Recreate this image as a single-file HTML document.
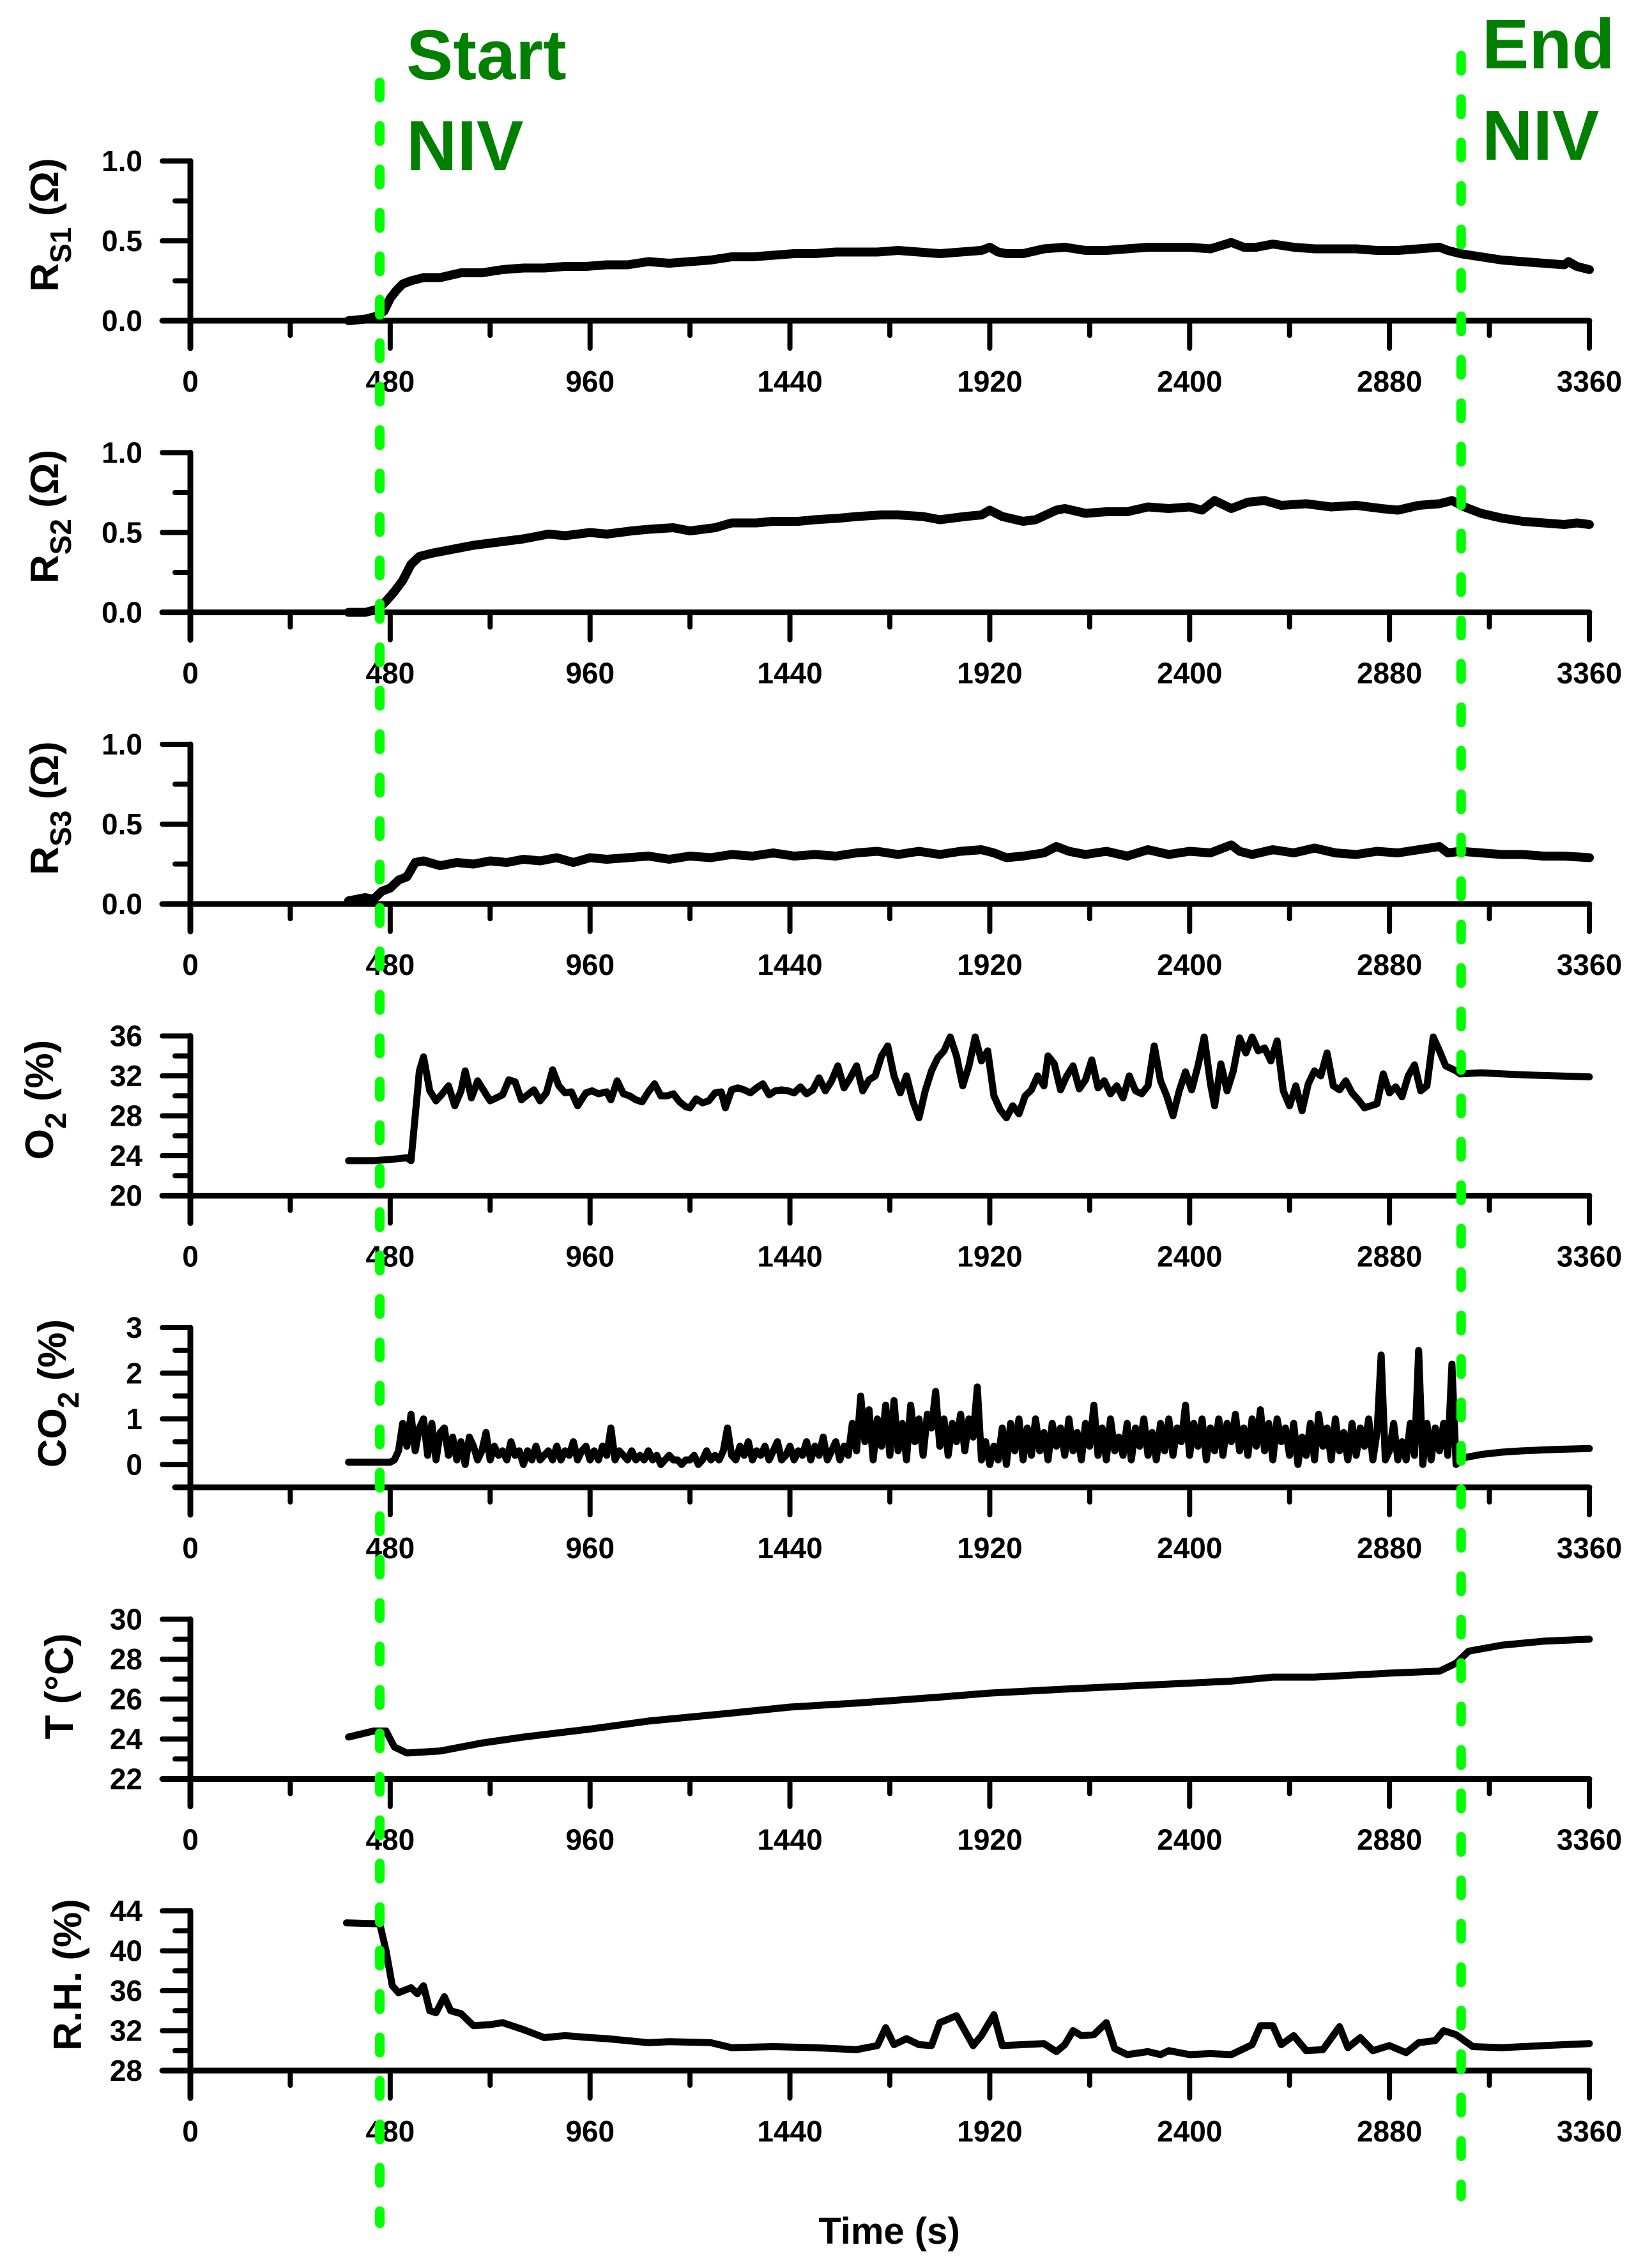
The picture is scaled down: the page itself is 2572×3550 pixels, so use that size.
<!DOCTYPE html>
<html><head><meta charset="utf-8"><style>
html,body{margin:0;padding:0;background:#fff;}
svg{display:block;font-family:"Liberation Sans",Arial,sans-serif;}
</style></head><body>
<svg id="chart" width="2572" height="3550" viewBox="0 0 2572 3550" xmlns="http://www.w3.org/2000/svg">
<g id="panels"></g>
<g id="markers"></g>
</svg>
<script>
const NS="http://www.w3.org/2000/svg";
// ---- shared x axis ----
const xTicksMajor=[0,480,960,1440,1920,2400,2880,3360];
const xTicksMinor=[240,720,1200,1680,2160,2640,3120];
const niveventTimes=[455,3052];
// ---- RS1 ----
const rs1T=[380,420,450,465,480,495,510,530,560,600,650,700,750,800,850,900,950,1000,1050,1100,1150,1200,1250,1300,1350,1400,1450,1500,1550,1600,1650,1700,1750,1800,1850,1900,1920,1940,1960,2000,2050,2100,2150,2200,2250,2300,2350,2400,2450,2500,2530,2560,2600,2650,2700,2750,2800,2850,2900,2950,3000,3020,3050,3100,3150,3200,3250,3300,3310,3330,3360];
const rs1V=[0.0,0.01,0.03,0.06,0.14,0.19,0.23,0.25,0.27,0.27,0.30,0.30,0.32,0.33,0.33,0.34,0.34,0.35,0.35,0.37,0.36,0.37,0.38,0.40,0.40,0.41,0.42,0.42,0.43,0.43,0.43,0.44,0.43,0.42,0.43,0.44,0.46,0.43,0.42,0.42,0.45,0.46,0.44,0.44,0.45,0.46,0.46,0.46,0.45,0.49,0.46,0.46,0.48,0.46,0.45,0.45,0.45,0.44,0.44,0.45,0.46,0.44,0.42,0.40,0.38,0.37,0.36,0.35,0.37,0.34,0.32];
// ---- RS2 ----
const rs2T=[380,420,450,470,490,510,530,550,580,620,680,740,800,860,900,960,1000,1060,1100,1160,1200,1260,1300,1360,1400,1460,1500,1560,1600,1660,1700,1760,1800,1860,1900,1920,1950,2000,2030,2080,2100,2150,2200,2250,2300,2350,2400,2430,2460,2500,2540,2580,2620,2680,2740,2800,2860,2900,2950,3000,3030,3060,3100,3150,3200,3250,3300,3330,3360];
const rs2V=[0.0,0.0,0.02,0.07,0.13,0.20,0.30,0.35,0.37,0.39,0.42,0.44,0.46,0.49,0.48,0.50,0.49,0.51,0.52,0.53,0.51,0.53,0.56,0.56,0.57,0.57,0.58,0.59,0.60,0.61,0.61,0.60,0.58,0.60,0.61,0.64,0.60,0.57,0.58,0.64,0.65,0.62,0.63,0.63,0.66,0.65,0.66,0.64,0.70,0.65,0.69,0.70,0.67,0.68,0.66,0.67,0.65,0.64,0.67,0.68,0.70,0.66,0.62,0.59,0.57,0.56,0.55,0.56,0.55];
// ---- RS3 ----
const rs3T=[380,420,440,460,480,500,520,540,560,600,640,680,720,760,800,840,880,920,960,1000,1050,1100,1150,1200,1250,1300,1350,1400,1450,1500,1550,1600,1650,1700,1750,1800,1850,1900,1930,1960,2000,2050,2080,2110,2150,2200,2250,2300,2350,2400,2450,2500,2520,2550,2600,2650,2700,2750,2800,2850,2900,2950,3000,3020,3050,3100,3150,3200,3250,3300,3360];
const rs3V=[0.02,0.04,0.03,0.08,0.10,0.15,0.17,0.26,0.27,0.24,0.26,0.25,0.27,0.26,0.28,0.27,0.29,0.26,0.29,0.28,0.29,0.30,0.28,0.30,0.29,0.31,0.30,0.32,0.30,0.31,0.30,0.32,0.33,0.31,0.33,0.31,0.33,0.34,0.32,0.29,0.30,0.32,0.36,0.33,0.31,0.33,0.30,0.34,0.31,0.33,0.32,0.37,0.33,0.31,0.34,0.32,0.35,0.32,0.31,0.33,0.32,0.34,0.36,0.32,0.33,0.32,0.31,0.31,0.30,0.30,0.29];
// ---- O2 ----
const o2T=[380,440,500,520,530,540,550,560,575,590,605,620,635,650,660,675,690,705,720,735,750,765,780,795,810,825,840,855,870,885,900,915,930,950,965,980,1000,1010,1025,1040,1055,1070,1085,1100,1115,1130,1145,1160,1175,1190,1200,1215,1230,1245,1260,1275,1285,1300,1315,1330,1345,1360,1375,1390,1405,1420,1435,1450,1465,1480,1495,1510,1525,1540,1555,1570,1585,1600,1615,1630,1645,1660,1675,1690,1705,1720,1735,1750,1765,1780,1795,1810,1825,1840,1855,1870,1885,1900,1915,1930,1945,1960,1975,1990,2005,2020,2035,2050,2060,2075,2090,2105,2120,2135,2150,2165,2180,2195,2210,2225,2240,2255,2270,2285,2300,2315,2330,2345,2360,2375,2390,2405,2420,2435,2450,2460,2475,2490,2505,2520,2535,2550,2565,2580,2595,2610,2625,2640,2655,2670,2685,2700,2715,2730,2745,2760,2775,2790,2805,2820,2835,2850,2865,2880,2895,2910,2925,2940,2955,2970,2985,3000,3015,3040,3050,3100,3200,3360];
const o2V=[23.5,23.5,23.7,23.8,23.5,28,32.5,33.9,30.5,29.5,30.2,31.0,29.0,30.5,32.5,29.8,31.5,30.5,29.5,29.8,30.1,31.6,31.4,29.6,30.1,30.6,29.5,30.3,32.6,31.0,30.3,30.4,29.0,30.3,30.5,30.2,30.4,29.6,31.5,30.2,30.0,29.6,29.4,30.4,31.2,30.0,30.0,30.2,29.4,28.9,28.8,29.7,29.3,29.5,30.3,30.4,28.8,30.6,30.8,30.6,30.3,30.8,31.2,30.1,30.5,30.6,30.5,30.3,30.9,30.2,30.6,31.8,30.5,31.5,33.0,30.8,31.8,33.0,30.5,31.6,32.0,34.0,35.0,32.0,30.3,32.0,29.5,27.8,30.5,32.5,33.8,34.5,35.9,34.0,31.0,33.0,35.9,33.5,34.5,30.0,28.6,27.8,29.0,28.2,30.0,30.6,32.0,31.0,34.0,33.2,30.6,32.0,33.0,30.7,31.6,33.6,30.8,31.5,30.2,31.0,29.8,32.0,30.5,30.2,31.0,35.0,31.5,30.0,28.0,30.5,32.4,30.6,33.0,35.9,31.2,29.0,33.2,30.5,32.5,35.8,34.3,35.9,34.5,34.8,33.5,35.5,30.5,29.0,31.0,28.5,31.2,32.5,32.0,34.3,31.0,30.6,31.5,30.3,29.6,28.8,29.0,29.2,32.2,30.3,30.9,29.9,32.0,33.1,30.5,31.0,35.9,34.5,33.0,32.5,32.2,32.3,32.1,31.9];
// ---- CO2 (10 s samples from 480 to 3040) ----
const co2Start=480;
const co2Step=10;
const co2V=[0.05,0.1,0.3,0.9,0.4,1.1,0.3,0.8,1.0,0.2,
0.9,0.1,0.7,0.8,0.2,0.6,0.1,0.5,0.0,0.6,
0.4,0.1,0.3,0.7,0.1,0.4,0.2,0.3,0.1,0.5,
0.2,0.3,0.0,0.3,0.1,0.4,0.1,0.2,0.3,0.1,
0.4,0.1,0.3,0.2,0.5,0.1,0.3,0.4,0.1,0.3,
0.1,0.4,0.2,0.8,0.1,0.3,0.2,0.1,0.3,0.1,
0.2,0.1,0.3,0.1,0.2,0.0,0.1,0.2,0.1,0.1,
0.0,0.1,0.1,0.2,0.0,0.1,0.3,0.1,0.2,0.1,
0.3,0.8,0.2,0.1,0.4,0.2,0.5,0.1,0.3,0.2,
0.4,0.1,0.3,0.5,0.1,0.2,0.4,0.1,0.3,0.2,
0.5,0.1,0.4,0.2,0.6,0.1,0.3,0.5,0.1,0.4,
0.2,0.9,0.3,1.5,0.5,1.2,0.1,1.0,0.4,1.3,
0.2,1.4,0.3,0.9,0.1,1.3,0.5,1.0,0.2,1.1,
0.8,1.6,0.4,1.0,0.2,0.9,0.5,1.1,0.3,1.0,
0.6,1.7,0.1,0.5,0.0,0.4,0.1,0.8,0.0,0.9,
0.3,1.0,0.1,0.8,0.2,1.0,0.3,0.7,0.1,0.9,
0.4,0.8,0.2,1.0,0.3,0.7,0.1,0.9,0.4,1.3,
0.2,0.8,0.1,1.0,0.3,0.6,0.2,0.9,0.1,0.8,
0.4,1.0,0.2,0.7,0.1,0.9,0.3,1.0,0.2,0.8,
0.5,1.3,0.2,0.9,0.4,1.0,0.1,0.8,0.3,1.0,
0.2,0.9,0.5,1.1,0.3,0.8,0.2,1.0,0.4,1.2,
0.3,0.9,0.1,1.0,0.5,0.8,0.2,0.9,0.0,0.6,
0.2,0.9,0.1,1.1,0.4,0.8,0.1,1.0,0.3,0.7,
0.1,0.9,0.2,0.8,0.4,1.0,0.1,0.7,2.4,0.1,
0.3,0.9,0.1,0.5,0.1,0.9,0.2,2.5,0.0,0.9,
0.1,0.8,0.3,0.9,0.2,2.2,0.0];
const co2PreT=[380,470];
const co2PreV=[0.05,0.05];
const co2PostT=[3060,3100,3150,3200,3280,3360];
const co2PostV=[0.15,0.22,0.27,0.30,0.33,0.35];
// ---- T ----
const tempT=[380,440,470,490,520,600,700,800,960,1100,1300,1440,1600,1800,1920,2100,2300,2500,2600,2700,2880,3000,3040,3070,3150,3250,3360];
const tempV=[24.1,24.4,24.4,23.6,23.3,23.4,23.8,24.1,24.5,24.9,25.3,25.6,25.8,26.1,26.3,26.5,26.7,26.9,27.1,27.1,27.3,27.4,27.8,28.4,28.7,28.9,29.0];
// ---- RH ----
const rhT=[375,455,470,485,500,530,545,560,575,590,610,625,650,680,720,750,800,850,900,960,1000,1100,1150,1250,1300,1400,1500,1600,1650,1670,1690,1720,1750,1780,1800,1840,1860,1880,1900,1930,1950,2000,2050,2080,2100,2120,2140,2170,2200,2220,2250,2300,2330,2350,2400,2450,2500,2550,2570,2600,2620,2650,2680,2720,2760,2780,2810,2840,2880,2920,2950,2990,3010,3040,3080,3150,3250,3360];
const rhV=[42.8,42.7,40,36.5,35.8,36.3,35.7,36.5,34,33.8,35.4,34,33.7,32.5,32.6,32.8,32.1,31.3,31.5,31.3,31.2,30.8,30.9,30.8,30.3,30.4,30.3,30.1,30.5,32.3,30.6,31.2,30.6,30.5,32.8,33.5,32,30.5,31.5,33.6,30.5,30.6,30.7,29.9,30.6,32,31.5,31.6,32.8,30.2,29.6,29.9,29.6,30,29.6,29.7,29.6,30.6,32.5,32.5,30.6,31.5,30,30.1,32.4,30.3,31.3,30,30.5,29.8,30.8,31,32,31.6,30.4,30.3,30.5,30.7];

// ---- layout ----
const X0=298, X1=2488, TMAX=3360;
function xScale(t){return X0+t/TMAX*(X1-X0);}
function el(tag,attrs,parent){const e=document.createElementNS(NS,tag);for(const k in attrs)e.setAttribute(k,attrs[k]);parent.appendChild(e);return e;}

const panels=[
 {name:'rs1',top:252,min:0,max:1,major:[0,0.5,1.0],minor:[0.25,0.75],dec:1,title:['R','S1',' (Ω)'],tx:91,tdy:-25,series:[[rs1T,rs1V]]},
 {name:'rs2',top:708.5,min:0,max:1,major:[0,0.5,1.0],minor:[0.25,0.75],dec:1,title:['R','S2',' (Ω)'],tx:91,tdy:-25,series:[[rs2T,rs2V]]},
 {name:'rs3',top:1165,min:0,max:1,major:[0,0.5,1.0],minor:[0.25,0.75],dec:1,title:['R','S3',' (Ω)'],tx:91,tdy:-25,series:[[rs3T,rs3V]]},
 {name:'o2',top:1621.5,min:20,max:36,major:[20,24,28,32,36],minor:[22,26,30,34],dec:0,title:['O','2',' (%)'],tx:83,tdy:-25,series:[[o2T,o2V]]},
 {name:'co2',top:2078,min:-0.5,max:3,major:[0,1,2,3],minor:[-0.5,0.5,1.5,2.5],dec:0,title:['CO','2',' (%)'],tx:103,tdy:-22,series:'co2'},
 {name:'temperature',top:2534.5,min:22,max:30,major:[22,24,26,28,30],minor:[23,25,27,29],dec:0,title:['T (°C)'],tx:114,tdy:-20,series:[[tempT,tempV]]},
 {name:'rh',top:2991,min:28,max:44,major:[28,32,36,40,44],minor:[30,34,38,42],dec:0,title:['R.H. (%)'],tx:127,tdy:-25,series:[[rhT,rhV]]}
];
const PH=250;
const root=document.getElementById('panels');

panels.forEach(p=>{
  const g=el('g',{},root);
  
  
  const bottom=p.top+PH;
  const yScale=v=>bottom-(v-p.min)/(p.max-p.min)*PH;
  const ax=el('g',{stroke:'#000','stroke-linecap':'round',fill:'none'},g);
  
  
  const yaxis=el('line',{x1:X0,y1:p.top,x2:X0,y2:bottom+43,'stroke-width':9},ax);
  
  
  const leftStart=p.major.includes(p.min)?X0-44:X0-24;
  const xaxis=el('line',{x1:leftStart,y1:bottom,x2:X1,y2:bottom,'stroke-width':9},ax);
  
  
  p.major.forEach(v=>{const y=yScale(v);el('line',{x1:X0-44,y1:y,x2:X0,y2:y,'stroke-width':8},ax);
    const t=el('text',{x:223,y:y+16,'text-anchor':'end','font-size':46,'font-weight':'bold',fill:'#000',stroke:'none'},g);
    
    
    t.textContent=p.dec?v.toFixed(p.dec):String(v);});
  p.minor.forEach(v=>{const y=yScale(v);el('line',{x1:X0-24,y1:y,x2:X0,y2:y,'stroke-width':8},ax);});
  xTicksMajor.forEach(tk=>{const x=xScale(tk);el('line',{x1:x,y1:bottom,x2:x,y2:bottom+43,'stroke-width':8},ax);
    const t=el('text',{x:x,y:bottom+111,'text-anchor':'middle','font-size':46,'font-weight':'bold',fill:'#000'},g);
    
    
    t.textContent=String(tk);});
  xTicksMinor.forEach(tk=>{const x=xScale(tk);el('line',{x1:x,y1:bottom,x2:x,y2:bottom+23,'stroke-width':8},ax);});
  const cy=p.top+PH/2+p.tdy;
  const tt=el('text',{transform:`translate(${p.tx},${cy}) rotate(-90)`,'text-anchor':'middle','font-size':62,'font-weight':'bold',fill:'#000'},g);
  
  
  if(p.title.length===1){tt.textContent=p.title[0];}
  else{
    const a=el('tspan',{},tt);a.textContent=p.title[0];
    const b=el('tspan',{dy:20,'font-size':46},tt);b.textContent=p.title[1];
    const c=el('tspan',{dy:-20},tt);c.textContent=p.title[2];
  }
  let pts=[];
  if(p.series==='co2'){
    co2PreT.forEach((t,i)=>pts.push([xScale(t),yScale(co2PreV[i])]));
    co2V.forEach((v,i)=>pts.push([xScale(co2Start+i*co2Step),yScale(v)]));
    co2PostT.forEach((t,i)=>pts.push([xScale(t),yScale(co2PostV[i])]));
  } else {
    const [ts,vs]=p.series[0];
    ts.forEach((t,i)=>pts.push([xScale(t),yScale(vs[i])]));
  }
  const path=el('path',{d:'M'+pts.map(q=>q[0].toFixed(1)+','+q[1].toFixed(1)).join('L'),fill:'none',stroke:'#000','stroke-width':p.name.startsWith('rs')?14:11,'stroke-linejoin':'round','stroke-linecap':'round'},g);
  
  
});

const xt=el('text',{x:1392,y:3512,'text-anchor':'middle','font-size':58,'font-weight':'bold',fill:'#000'},root);


xt.textContent='Time (s)';

const mk=document.getElementById('markers');
const lineTops=[121,79];
const lineBots=[3488,3446];
niveventTimes.forEach((t,i)=>{
  const x=xScale(t);
  const l=el('line',{x1:x,y1:lineTops[i]+8,x2:x,y2:lineBots[i]-8,stroke:'#00ff00','stroke-width':15,'stroke-dasharray':'24 44','stroke-linecap':'round'},mk);
  
  
});
const labels=[['Start',636,124,'start-label'],['NIV',636,266,'start-niv-label'],['End',2320,107,'end-label'],['NIV',2320,250,'end-niv-label']];
labels.forEach(L=>{
  const t=el('text',{x:L[1],y:L[2],'font-size':110,'font-weight':'bold',fill:'#007f00'},mk);
  
  
  t.textContent=L[0];
});
</script>
</body></html>
